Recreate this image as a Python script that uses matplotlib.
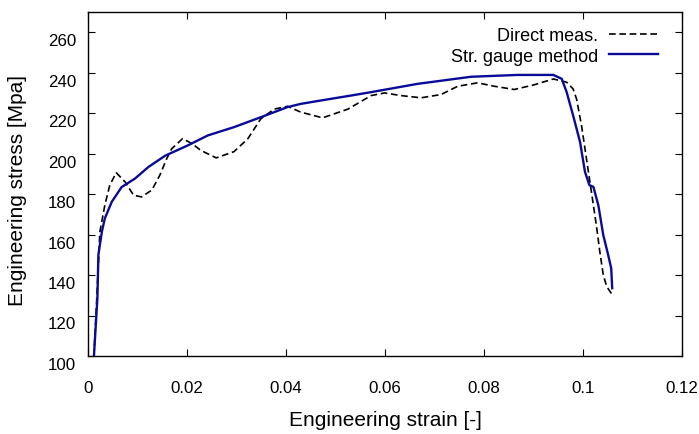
#!/usr/bin/env python3
"""
Engineering stress-strain curve: direct measurement vs strain gauge method
"""

import matplotlib
matplotlib.use("Agg")
import matplotlib.pyplot as plt
import matplotlib.transforms as mtransforms

plt.rcParams['font.family'] = ['Liberation Sans', 'DejaVu Sans']

# Direct measurement (dashed black)
direct_strain = [0.0012, 0.0018, 0.0024, 0.0034, 0.0044, 0.0057, 0.0075, 0.0092, 0.0108,
                 0.0129, 0.0145, 0.0159, 0.0169, 0.0191, 0.0210, 0.0228, 0.0259, 0.0295,
                 0.0323, 0.0349, 0.0376, 0.0403, 0.0430, 0.0474, 0.0525, 0.0572, 0.0599,
                 0.0632, 0.0673, 0.0713, 0.0747, 0.0787, 0.0821, 0.0861, 0.0901, 0.0940,
                 0.0967, 0.0980, 0.0987, 0.0997, 0.1007, 0.1017, 0.1027, 0.1034, 0.1041,
                 0.1048, 0.1060]
direct_stress = [100.0, 130.0, 161.4, 174.5, 184.4, 190.6, 186.0, 179.5, 178.6,
                 182.0, 189.3, 197.5, 202.4, 207.4, 205.0, 201.6, 197.9, 201.0,
                 207.4, 217.2, 222.0, 223.4, 220.5, 217.7, 222.0, 228.7, 230.0,
                 228.7, 227.6, 229.2, 233.3, 235.0, 233.3, 231.7, 234.0, 236.9,
                 235.3, 232.0, 227.0, 213.9, 197.5, 181.1, 164.6, 151.5, 140.0,
                 134.3, 129.9]

# Strain gauge method (solid blue)
gauge_strain = [0.0012, 0.0019, 0.0021, 0.0028, 0.0034, 0.0048, 0.0068, 0.0095, 0.0122,
                0.0156, 0.0201, 0.0242, 0.0295, 0.0349, 0.0403, 0.0430, 0.0471, 0.0531,
                0.0572, 0.0666, 0.0774, 0.0868, 0.0940, 0.0957, 0.0967, 0.0980, 0.0994,
                0.1004, 0.1013, 0.1021, 0.1031, 0.1041, 0.1051, 0.1057, 0.1059]
gauge_stress = [100.0, 128.6, 150.0, 161.4, 168.0, 176.2, 183.5, 187.7, 193.4,
                199.0, 204.0, 209.0, 213.1, 218.0, 223.0, 224.6, 226.3, 228.7,
                230.4, 234.5, 238.0, 238.9, 238.9, 237.0, 230.4, 218.9, 205.8,
                191.0, 184.4, 183.6, 174.5, 159.7, 149.8, 143.3, 133.5]

x_ticks = [0, 0.02, 0.04, 0.06, 0.08, 0.1, 0.12]
x_tick_labels = ['0', '0.02', '0.04', '0.06', '0.08', '0.1', '0.12']
y_ticks = [100, 120, 140, 160, 180, 200, 220, 240, 260]

fig = plt.figure(figsize=(6.99, 4.35), dpi=100)
ax = fig.add_axes([88 / 699, 1 - 357 / 435, (682 - 88) / 699, (357 - 13) / 435])

ax.plot(direct_strain, direct_stress, color='black', linestyle=(0, (4, 2.2)),
        linewidth=1.2, label='Direct meas.')
ax.plot(gauge_strain, gauge_stress, color='#0a0a9a', linewidth=1.7,
        label='Str. gauge method')

ax.set_xlim(0, 0.12)
ax.set_ylim(100, 270)
ax.set_xticks(x_ticks)
ax.set_xticklabels(x_tick_labels)
ax.set_yticks(y_ticks)

ax.tick_params(direction='in', top=True, right=True, length=5, width=0.8,
               labelsize=12.2)
ax.tick_params(axis='x', pad=17)
ax.tick_params(axis='y', pad=8.5)
# gnuplot puts y tick labels slightly below the tick
offset = mtransforms.ScaledTranslation(0, -5 / 72, fig.dpi_scale_trans)
for lbl in ax.get_yticklabels():
    lbl.set_transform(lbl.get_transform() + offset)

for spine in ax.spines.values():
    spine.set_linewidth(1.0)

ax.set_xlabel('Engineering strain [-]', fontsize=15)
ax.set_ylabel('Engineering stress [Mpa]', fontsize=15)
ax.xaxis.set_label_coords(0.5, (357 - 421) / 344)
ax.xaxis.label.set_va('center')
ax.yaxis.set_label_coords((18 - 88) / 594, (357 - 190) / 344)
ax.yaxis.label.set_va('center')

leg = ax.legend(loc='upper right', frameon=False, markerfirst=False, fontsize=13,
                handlelength=2.7, handletextpad=0.6, labelspacing=0.2,
                borderpad=0, borderaxespad=0,
                bbox_to_anchor=((658 - 88) / 594, (357 - 28) / 344))
for t in leg.get_texts():
    t.set_ha('right')

fig.savefig('out.png', dpi=100)
